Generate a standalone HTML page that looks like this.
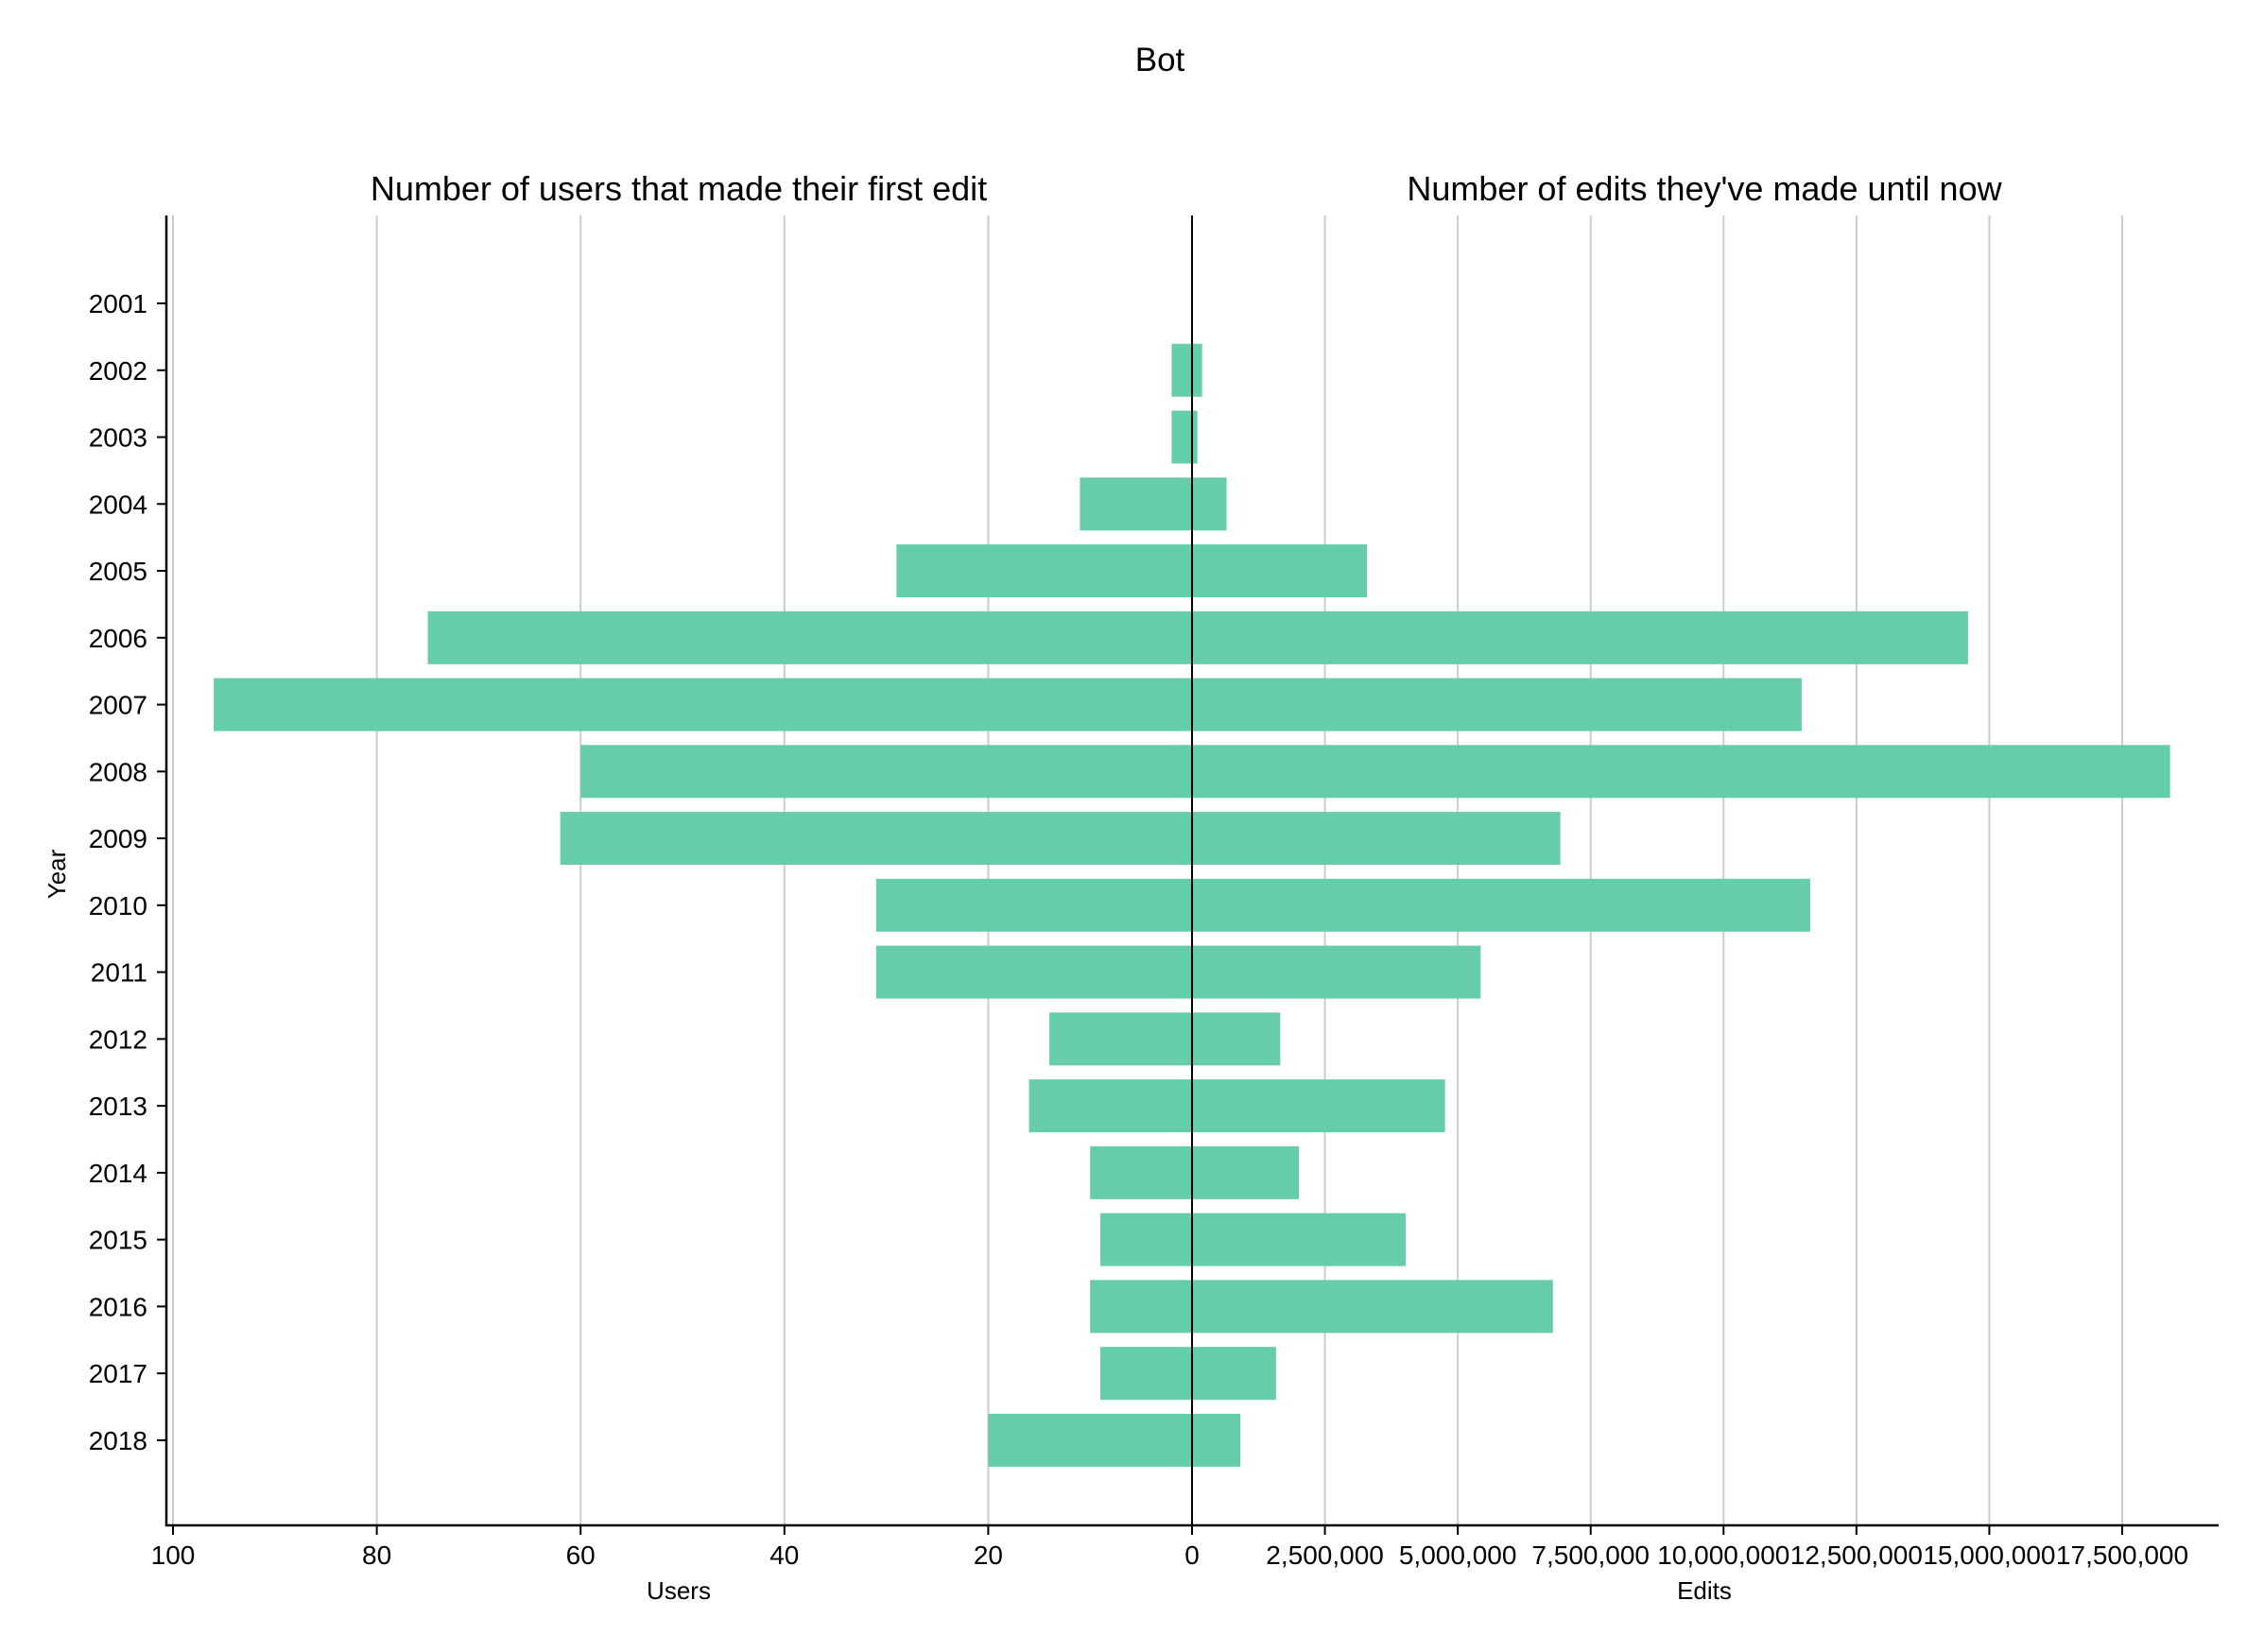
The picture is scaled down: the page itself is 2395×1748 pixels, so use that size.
<!DOCTYPE html>
<html><head><meta charset="utf-8"><style>
html,body{margin:0;padding:0;background:#fff;}
svg{display:block;font-family:"Liberation Sans",sans-serif;}
</style></head><body>
<svg id="chart" width="2395" height="1748" viewBox="0 0 2395 1748">
<text x="1227" y="75" font-size="35" text-anchor="middle">Bot</text>
<text x="718" y="212" font-size="36" text-anchor="middle">Number of users that made their first edit</text>
<text x="1803" y="212" font-size="36" text-anchor="middle">Number of edits they've made until now</text>
<g id="grid"></g>
<g id="bars"></g>
<g id="axes"></g>
<text x="0" y="0" font-size="26" text-anchor="middle" transform="translate(69,925) rotate(-90)">Year</text>
<text x="718" y="1692" font-size="26" text-anchor="middle">Users</text>
<text x="1803" y="1692" font-size="26" text-anchor="middle">Edits</text>
</svg>
<script>
const years = [2001,2002,2003,2004,2005,2006,2007,2008,2009,2010,2011,2012,2013,2014,2015,2016,2017,2018];
const users = [0,2,2,11,29,75,96,60,62,31,31,14,16,10,9,10,9,20];
const edits = [0,190000,100000,650000,3290000,14600000,11470000,18400000,6930000,11630000,5430000,1660000,4760000,2010000,4020000,6790000,1580000,910000];
const userTicks = [100,80,60,40,20,0];
const editTicks = [0,2500000,5000000,7500000,10000000,12500000,15000000,17500000];

const NS = "http://www.w3.org/2000/svg";
const zeroX = 1261, leftSpine = 176, rightEnd = 2347, plotTop = 228, plotBottom = 1614;
const xUsers = v => zeroX - v * (zeroX - 183) / 100;
const xEdits = v => zeroX + v * (2245 - zeroX) / 17500000;
const yBand = i => 321 + i * 70.76;
const barH = 56;
function mk(tag, attrs, parent){const e=document.createElementNS(NS,tag);for(const k in attrs)e.setAttribute(k,attrs[k]);parent.appendChild(e);return e;}
const grid=document.getElementById('grid'), bars=document.getElementById('bars'), axes=document.getElementById('axes');
const fmt = v => v.toLocaleString('en-US');

userTicks.forEach(t=>{
  const x=xUsers(t);
  if(t!==0){const g=mk('line',{x1:x,x2:x,y1:plotTop,y2:plotBottom,stroke:'#cccccc','stroke-width':2},grid);
  
  }
  const tk=mk('line',{x1:x,x2:x,y1:plotBottom,y2:plotBottom+10,stroke:'#000','stroke-width':2},axes);
  
  
  const tl=mk('text',{x:x,y:1655,'font-size':28,'text-anchor':'middle'},axes);
  tl.textContent=t;
  
  
});
editTicks.forEach(t=>{
  const x=xEdits(t);
  if(t!==0){const g=mk('line',{x1:x,x2:x,y1:plotTop,y2:plotBottom,stroke:'#cccccc','stroke-width':2},grid);
  
  
  const tk=mk('line',{x1:x,x2:x,y1:plotBottom,y2:plotBottom+10,stroke:'#000','stroke-width':2},axes);
  
  
  const tl=mk('text',{x:x,y:1655,'font-size':28,'text-anchor':'middle'},axes);
  tl.textContent=fmt(t);
  
  }
});
years.forEach((yr,i)=>{
  const yc=yBand(i);
  const x0=xUsers(users[i]);
  const b1=mk('rect',{x:x0,y:yc-barH/2,width:zeroX-x0,height:barH,fill:'#66cdaa'},bars);
  
  
  const b2=mk('rect',{x:zeroX,y:yc-barH/2,width:xEdits(edits[i])-zeroX,height:barH,fill:'#66cdaa'},bars);
  
  
  const tk=mk('line',{x1:leftSpine-10,x2:leftSpine,y1:yc,y2:yc,stroke:'#000','stroke-width':2},axes);
  
  
  const tl=mk('text',{x:leftSpine-20,y:yc+10,'font-size':28,'text-anchor':'end'},axes);
  tl.textContent=yr;
  
  
});
const sp=mk('line',{x1:leftSpine,x2:leftSpine,y1:plotTop,y2:plotBottom+1,stroke:'#000','stroke-width':2.5},axes);


const zl=mk('line',{x1:zeroX,x2:zeroX,y1:plotTop,y2:plotBottom,stroke:'#000','stroke-width':2},axes);


const bx=mk('line',{x1:leftSpine-1,x2:rightEnd,y1:plotBottom,y2:plotBottom,stroke:'#000','stroke-width':2.5},axes);


</script>
</body></html>
